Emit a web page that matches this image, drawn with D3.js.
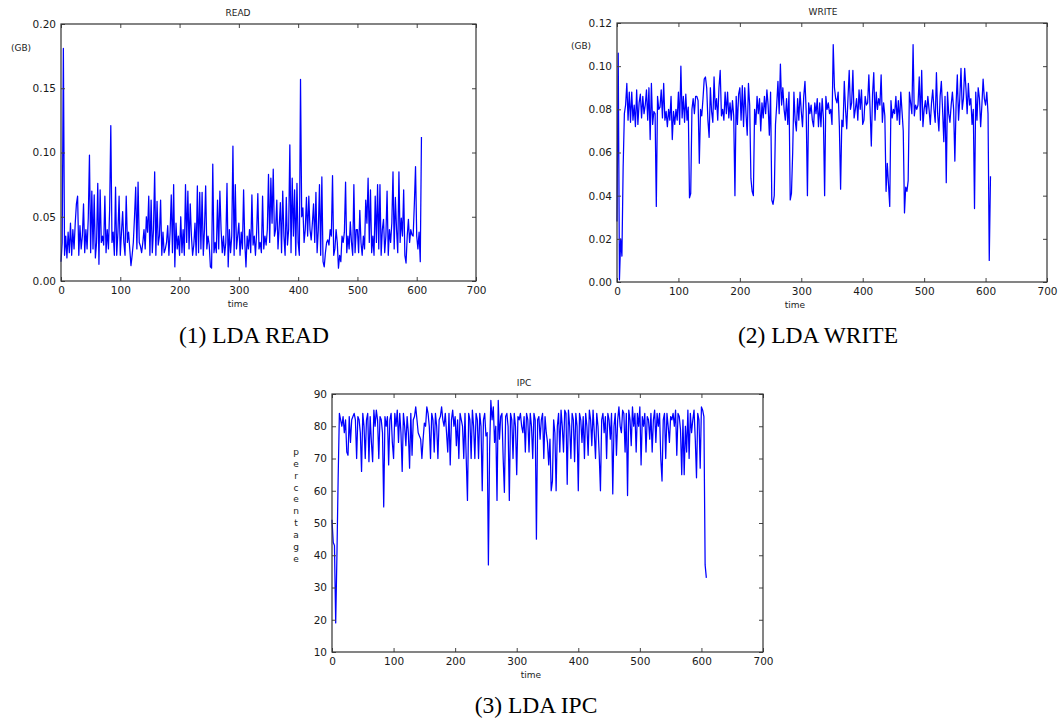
<!DOCTYPE html>
<html>
<head>
<meta charset="utf-8">
<script src="https://cdn.jsdelivr.net/npm/d3@7"></script>
<style>
  body { margin: 0; background: #fff; }
  svg { display: block; }
  .tick text { font-family: "DejaVu Sans", sans-serif; font-size: 10.5px; fill: #1a1a1a; }
  .lbl { font-family: "DejaVu Sans", sans-serif; font-size: 9px; fill: #222; }
  .cap { font-family: "Liberation Serif", "Times New Roman", serif; font-size: 23.5px; fill: #000; }
</style>
</head>
<body>
<svg id="fig" width="1058" height="722"></svg>
<script>
// samples are every 2 time units, starting at t = 0
const step = 2;
const xTicks = [0, 100, 200, 300, 400, 500, 600, 700];

const readTicks = [0, 0.05, 0.10, 0.15, 0.20];
const writeTicks = [0, 0.02, 0.04, 0.06, 0.08, 0.10, 0.12];
const ipcTicks = [10, 20, 30, 40, 50, 60, 70, 80, 90];

const readVals = [
  0.015, 0.03, 0.181, 0.02, 0.035, 0.018, 0.038, 0.022, 0.045, 0.02,
  0.04, 0.025, 0.045, 0.06, 0.066, 0.02, 0.043, 0.025, 0.035, 0.06,
  0.022, 0.04, 0.025, 0.049, 0.098, 0.022, 0.07, 0.025, 0.067, 0.018,
  0.03, 0.076, 0.013, 0.071, 0.03, 0.035, 0.028, 0.066, 0.022, 0.04,
  0.025, 0.055, 0.121, 0.03, 0.038, 0.02, 0.073, 0.02, 0.038, 0.066,
  0.02, 0.038, 0.054, 0.03, 0.02, 0.066, 0.03, 0.038, 0.025, 0.012,
  0.02, 0.03, 0.05, 0.073, 0.025, 0.077, 0.03, 0.027, 0.022, 0.03,
  0.04, 0.025, 0.05, 0.038, 0.066, 0.02, 0.063, 0.022, 0.04, 0.085,
  0.02, 0.062, 0.028, 0.035, 0.063, 0.02, 0.038, 0.022, 0.025, 0.03,
  0.043, 0.02, 0.038, 0.067, 0.022, 0.075, 0.011, 0.045, 0.025, 0.035,
  0.02, 0.05, 0.022, 0.04, 0.02, 0.075, 0.03, 0.07, 0.025, 0.06,
  0.035, 0.02, 0.028, 0.045, 0.02, 0.074, 0.022, 0.069, 0.025, 0.069,
  0.02, 0.04, 0.074, 0.025, 0.035, 0.028, 0.011, 0.01, 0.091, 0.022,
  0.03, 0.022, 0.063, 0.025, 0.07, 0.04, 0.022, 0.035, 0.02, 0.03,
  0.076, 0.011, 0.04, 0.022, 0.035, 0.105, 0.02, 0.075, 0.025, 0.035,
  0.045, 0.02, 0.038, 0.025, 0.071, 0.03, 0.011, 0.035, 0.025, 0.04,
  0.022, 0.067, 0.028, 0.035, 0.02, 0.038, 0.068, 0.025, 0.03, 0.022,
  0.066, 0.025, 0.035, 0.028, 0.04, 0.083, 0.03, 0.08, 0.045, 0.087,
  0.035, 0.04, 0.063, 0.025, 0.042, 0.061, 0.022, 0.07, 0.035, 0.02,
  0.065, 0.028, 0.04, 0.106, 0.022, 0.08, 0.035, 0.071, 0.02, 0.076,
  0.03, 0.02, 0.157, 0.05, 0.057, 0.03, 0.04, 0.065, 0.035, 0.066,
  0.04, 0.032, 0.045, 0.06, 0.03, 0.069, 0.022, 0.04, 0.075, 0.02,
  0.081, 0.015, 0.011, 0.022, 0.03, 0.032, 0.028, 0.04, 0.035, 0.082,
  0.02, 0.025, 0.04, 0.03, 0.01, 0.02, 0.015, 0.035, 0.03, 0.038,
  0.077, 0.022, 0.035, 0.025, 0.046, 0.03, 0.02, 0.075, 0.022, 0.04,
  0.04, 0.022, 0.055, 0.03, 0.02, 0.035, 0.025, 0.063, 0.045, 0.08,
  0.03, 0.071, 0.022, 0.035, 0.02, 0.066, 0.03, 0.075, 0.025, 0.075,
  0.02, 0.04, 0.048, 0.022, 0.035, 0.07, 0.02, 0.04, 0.03, 0.045,
  0.085, 0.025, 0.065, 0.04, 0.022, 0.085, 0.03, 0.049, 0.035, 0.071,
  0.02, 0.014, 0.035, 0.048, 0.03, 0.04, 0.036, 0.035, 0.06, 0.089,
  0.035, 0.025, 0.038, 0.015, 0.112
];

const writeVals = [
  0.028, 0.106, 0.001, 0.02, 0.012, 0.053, 0.078, 0.082, 0.092, 0.075,
  0.088, 0.074, 0.088, 0.075, 0.082, 0.072, 0.089, 0.073, 0.083, 0.087,
  0.076, 0.086, 0.078, 0.082, 0.089, 0.075, 0.09, 0.066, 0.092, 0.073,
  0.079, 0.078, 0.035, 0.086, 0.08, 0.081, 0.089, 0.076, 0.092, 0.075,
  0.079, 0.072, 0.08, 0.075, 0.086, 0.066, 0.079, 0.073, 0.08, 0.075,
  0.088, 0.073, 0.1, 0.076, 0.086, 0.074, 0.087, 0.075, 0.081, 0.039,
  0.041, 0.08, 0.085, 0.078, 0.086, 0.086, 0.084, 0.055, 0.08, 0.077,
  0.085, 0.094, 0.095, 0.09, 0.075, 0.067, 0.09, 0.079, 0.074, 0.095,
  0.08, 0.085, 0.075, 0.09, 0.098, 0.077, 0.08, 0.075, 0.088, 0.078,
  0.088, 0.076, 0.083, 0.075, 0.084, 0.077, 0.04, 0.086, 0.073, 0.087,
  0.09, 0.075, 0.091, 0.072, 0.09, 0.078, 0.068, 0.092, 0.082, 0.048,
  0.042, 0.04, 0.08, 0.073, 0.086, 0.078, 0.085, 0.07, 0.083, 0.076,
  0.086, 0.078, 0.089, 0.082, 0.068, 0.088, 0.038, 0.036, 0.04, 0.073,
  0.082, 0.093, 0.078, 0.101, 0.082, 0.09, 0.08, 0.075, 0.085, 0.073,
  0.088, 0.038, 0.041, 0.06, 0.088, 0.075, 0.07, 0.085, 0.075, 0.088,
  0.079, 0.072, 0.086, 0.093, 0.079, 0.04, 0.083, 0.078, 0.082, 0.075,
  0.072, 0.083, 0.078, 0.085, 0.072, 0.083, 0.072, 0.085, 0.076, 0.04,
  0.086, 0.08, 0.083, 0.078, 0.08, 0.073, 0.11, 0.09, 0.085, 0.083,
  0.088, 0.072, 0.043, 0.075, 0.072, 0.093, 0.08, 0.071, 0.085, 0.098,
  0.08, 0.083, 0.098, 0.076, 0.08, 0.085, 0.075, 0.089, 0.08, 0.089,
  0.073, 0.075, 0.086, 0.082, 0.083, 0.096, 0.08, 0.063, 0.087, 0.097,
  0.075, 0.088, 0.08, 0.085, 0.082, 0.096, 0.074, 0.083, 0.077, 0.042,
  0.055, 0.045, 0.035, 0.084, 0.076, 0.08, 0.078, 0.086, 0.075, 0.084,
  0.073, 0.088, 0.079, 0.07, 0.032, 0.044, 0.042, 0.047, 0.088, 0.083,
  0.078, 0.11, 0.077, 0.082, 0.08, 0.082, 0.095, 0.075, 0.098, 0.072,
  0.08, 0.084, 0.078, 0.086, 0.08, 0.073, 0.083, 0.089, 0.08, 0.074,
  0.097, 0.078, 0.07, 0.086, 0.093, 0.08, 0.065, 0.086, 0.046, 0.088,
  0.078, 0.074, 0.082, 0.088, 0.08, 0.056, 0.082, 0.096, 0.075, 0.085,
  0.099, 0.08, 0.085, 0.099, 0.09, 0.078, 0.092, 0.082, 0.085, 0.073,
  0.08, 0.034, 0.088, 0.075, 0.09, 0.085, 0.072, 0.082, 0.094, 0.085,
  0.082, 0.088, 0.078, 0.01, 0.049
];

const ipcVals = [
  51, 44, 43, 19, 40, 64, 84, 82, 80, 83,
  78, 82, 72, 71, 83, 75, 82, 83, 84, 82,
  70, 83, 82, 78, 66, 84, 80, 70, 82, 84,
  69, 83, 75, 69, 85, 80, 85, 82, 70, 83,
  82, 78, 55, 83, 80, 83, 68, 82, 84, 75,
  70, 84, 80, 85, 75, 84, 78, 66, 84, 80,
  74, 83, 78, 67, 84, 71, 82, 83, 86, 82,
  78, 77, 76, 70, 76, 81, 80, 86, 84, 80,
  70, 84, 82, 72, 84, 80, 70, 82, 83, 86,
  82, 80, 84, 78, 72, 84, 68, 82, 85, 80,
  83, 74, 82, 70, 84, 82, 80, 70, 84, 70,
  57, 84, 82, 70, 85, 80, 70, 84, 82, 70,
  84, 80, 60, 82, 84, 77, 78, 37, 73, 88,
  82, 86, 75, 80, 57, 88, 76, 83, 84, 70,
  59.5, 83, 84, 80, 57, 84, 82, 70, 84, 80,
  65, 83, 82, 84, 80, 78, 83, 72, 84, 82,
  72, 84, 80, 70, 84, 82, 45, 82, 83, 76,
  82, 84, 70, 83, 78, 75, 68, 76, 60, 63,
  82, 78, 60, 80, 84, 72, 85, 80, 72, 85,
  84, 62, 85, 80, 70, 84, 82, 69, 84, 80,
  60, 84, 82, 75, 83, 70, 84, 80, 71, 85,
  82, 74, 85, 78, 70, 84, 80, 71, 60, 82,
  84, 78, 83, 70, 84, 82, 76, 84, 59, 80,
  84, 71, 82, 86, 80, 78, 85, 84, 72, 84,
  58.5, 85, 82, 74, 86, 80, 84, 72, 84, 80,
  86, 68, 83, 80, 84, 72, 83, 82, 76, 84,
  72, 82, 85, 75, 84, 80, 84, 70, 63, 82,
  84, 70, 84, 80, 75, 83, 82, 84, 80, 85,
  71, 84, 83, 79, 65, 82, 65, 80, 72, 85,
  70, 84, 78, 82, 85, 76, 64, 84, 82, 67,
  86, 85, 83, 37, 33
];

const svg = d3.select("#fig");

const panels = [
  { title: "READ", yLabel: "(GB)", vals: readVals, yDomain: [0, 0.2], yTicks: readTicks, fmt: d3.format(".2f"),
    left: 61, right: 476, top: 24, bottom: 281, titleX: 238, timeX: 238, labelX: 21, labelY: 51,
    caption: "(1) LDA READ", capX: 254, capY: 343 },
  { title: "WRITE", yLabel: "(GB)", vals: writeVals, yDomain: [0, 0.12], yTicks: writeTicks, fmt: d3.format(".2f"),
    left: 617, right: 1047, top: 23, bottom: 282, titleX: 823, timeX: 795, labelX: 581, labelY: 49,
    caption: "(2) LDA WRITE", capX: 818, capY: 343 },
  { title: "IPC", yLabel: "percentage", vals: ipcVals, yDomain: [10, 90], yTicks: ipcTicks, fmt: d3.format("d"),
    left: 332, right: 763, top: 394, bottom: 652, titleX: 524, timeX: 531, labelX: 296, labelY: 452,
    caption: "(3) LDA IPC", capX: 536, capY: 713, vertical: true }
];

panels.forEach(p => {
  const g = svg.append("g");
  const x = d3.scaleLinear().domain([0, 700]).range([p.left, p.right]);
  const y = d3.scaleLinear().domain(p.yDomain).range([p.bottom, p.top]);

  // the line first, frame and ticks drawn over it
  const line = d3.line()
    .x((d, i) => x(i * step))
    .y(d => y(d));
  g.append("path")
    .datum(p.vals)
    .attr("fill", "none")
    .attr("stroke", "#0000ff")
    .attr("stroke-width", 1.25)
    .attr("stroke-linejoin", "round")
    .attr("d", line);

  // ticks point inward on all four sides (old matplotlib look)
  g.append("g")
    .attr("transform", "translate(0," + p.bottom + ")")
    .call(d3.axisBottom(x).tickValues(xTicks).tickSize(-4).tickPadding(6));
  g.append("g")
    .attr("transform", "translate(0," + p.top + ")")
    .call(d3.axisTop(x).tickValues(xTicks).tickSize(-4).tickFormat(""));
  g.append("g")
    .attr("transform", "translate(" + p.left + ",0)")
    .call(d3.axisLeft(y).tickValues(p.yTicks).tickSize(-4).tickPadding(5).tickFormat(p.fmt));
  g.append("g")
    .attr("transform", "translate(" + p.right + ",0)")
    .call(d3.axisRight(y).tickValues(p.yTicks).tickSize(-4).tickFormat(""));
  g.selectAll(".domain").remove();
  g.selectAll(".tick line").attr("stroke", "#444");

  g.append("rect")
    .attr("x", p.left).attr("y", p.top)
    .attr("width", p.right - p.left).attr("height", p.bottom - p.top)
    .attr("fill", "none").attr("stroke", "#333").attr("stroke-width", 1.2);

  g.append("text").attr("class", "lbl")
    .attr("x", p.titleX).attr("y", p.top - 8)
    .attr("text-anchor", "middle").text(p.title);
  g.append("text").attr("class", "lbl")
    .attr("x", p.timeX).attr("y", p.bottom + 26)
    .attr("text-anchor", "middle").text("time");

  if (p.vertical) {
    // letters stacked one under another
    g.append("g").selectAll("text")
      .data(p.yLabel.split(""))
      .join("text").attr("class", "lbl")
      .attr("x", p.labelX)
      .attr("y", (c, i) => p.labelY + i * 11.85 + 3)
      .attr("text-anchor", "middle")
      .text(c => c);
  } else {
    g.append("text").attr("class", "lbl")
      .attr("x", p.labelX).attr("y", p.labelY)
      .attr("text-anchor", "middle").text(p.yLabel);
  }

  svg.append("text").attr("class", "cap")
    .attr("x", p.capX).attr("y", p.capY)
    .attr("text-anchor", "middle").text(p.caption);
});
</script>
</body>
</html>
